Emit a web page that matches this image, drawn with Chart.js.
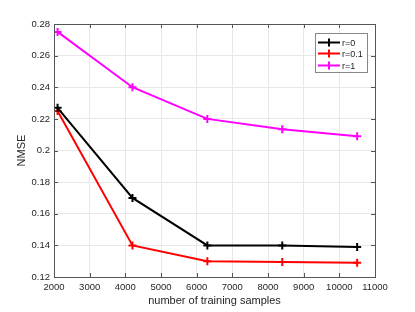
<!DOCTYPE html>
<html>
<head>
<meta charset="utf-8">
<script src="https://cdn.jsdelivr.net/npm/chart.js@4"></script>
<style>
  html, body { margin: 0; padding: 0; background: #fff; }
  #wrap { width: 415px; height: 312px; }
</style>
</head>
<body>
<div id="wrap"><canvas id="nmseChart" width="415" height="312"></canvas></div>
<script>
// data
const samples = [2100, 4200, 6300, 8400, 10500];
const r0 = [0.227, 0.170, 0.140, 0.140, 0.139];
const r01 = [0.225, 0.140, 0.130, 0.1295, 0.129];
const r1 = [0.275, 0.240, 0.220, 0.2135, 0.209];
const seriesNames = ['r=0', 'r=0.1', 'r=1'];
const seriesColors = ['#000000', '#ff0000', '#ff00ff'];

const toPoints = ys => ys.map((y, i) => ({ x: samples[i], y: y }));
const FONT = '"Liberation Sans", Arial, sans-serif';

// box around the axes + inward ticks, MATLAB style
const boxPlugin = {
  id: 'box',
  afterDraw(chart) {
    const { ctx, chartArea: a, scales } = chart;
    ctx.save();
    ctx.strokeStyle = '#555';
    ctx.lineWidth = 1;
    ctx.strokeRect(a.left + 0.5, a.top + 0.5, a.right - a.left, a.bottom - a.top);
    ctx.beginPath();
    scales.x.ticks.forEach(t => {
      const px = Math.round(scales.x.getPixelForValue(t.value)) + 0.5;
      ctx.moveTo(px, a.bottom); ctx.lineTo(px, a.bottom - 4);
      ctx.moveTo(px, a.top); ctx.lineTo(px, a.top + 4);
    });
    scales.y.ticks.forEach(t => {
      const py = Math.round(scales.y.getPixelForValue(t.value)) + 0.5;
      ctx.moveTo(a.left, py); ctx.lineTo(a.left + 4, py);
      ctx.moveTo(a.right, py); ctx.lineTo(a.right - 4, py);
    });
    ctx.stroke();
    ctx.restore();
  }
};

// legend box in the top right corner of the plot
const legendPlugin = {
  id: 'innerLegend',
  afterDraw(chart) {
    const { ctx, chartArea: a } = chart;
    const w = 52, h = 39;
    const x0 = a.right - 60, y0 = a.top + 9;
    ctx.save();
    ctx.fillStyle = '#fff';
    ctx.fillRect(x0, y0, w, h);
    ctx.strokeStyle = '#888';
    ctx.lineWidth = 1;
    ctx.strokeRect(x0 + 0.5, y0 + 0.5, w, h);
    ctx.font = '9px ' + FONT;
    ctx.textBaseline = 'middle';
    chart.data.datasets.forEach((ds, i) => {
      const cy = Math.round(y0 + 9 + i * 11.3) + 0.5;
      ctx.strokeStyle = ds.borderColor;
      ctx.lineWidth = 2;
      ctx.beginPath();
      ctx.moveTo(x0 + 3, cy); ctx.lineTo(x0 + 25, cy);
      ctx.moveTo(x0 + 14, cy - 4); ctx.lineTo(x0 + 14, cy + 4);
      ctx.stroke();
      ctx.fillStyle = '#222';
      ctx.fillText(ds.label, x0 + 27, cy + 1);
    });
    ctx.restore();
  }
};

const datasets = [r0, r01, r1].map((vals, i) => ({
  label: seriesNames[i],
  data: toPoints(vals),
  borderColor: seriesColors[i],
  backgroundColor: seriesColors[i],
  borderWidth: 2,
  pointStyle: 'cross',
  pointRadius: 4,
  pointBorderWidth: 2,
  tension: 0
}));

new Chart(document.getElementById('nmseChart'), {
  type: 'line',
  data: { datasets: datasets },
  options: {
    responsive: false,
    animation: false,
    layout: { padding: { top: 24, right: 40, left: 0, bottom: 0 } },
    plugins: {
      legend: { display: false },
      tooltip: { enabled: false }
    },
    scales: {
      x: {
        type: 'linear',
        min: 2000, max: 11000,
        ticks: {
          stepSize: 1000, autoSkip: false, maxRotation: 0,
          color: '#262626', font: { family: FONT, size: 9.5 }, padding: 5,
          callback: v => String(v)
        },
        grid: { color: '#e8e8e8', drawTicks: false },
        border: { display: false },
        title: {
          display: true, text: 'number of training samples',
          color: '#262626', font: { family: FONT, size: 11 }, padding: { top: 4 }
        },
        afterFit(s) { s.height = 35; }
      },
      y: {
        min: 0.12, max: 0.28,
        ticks: {
          stepSize: 0.02, color: '#262626', font: { family: FONT, size: 9.5 }, padding: 4,
          callback: v => String(+v.toFixed(2))
        },
        grid: { color: '#e8e8e8', drawTicks: false },
        border: { display: false },
        title: {
          display: true, text: 'NMSE',
          color: '#262626', font: { family: FONT, size: 11 }, padding: { top: 15 }
        },
        afterFit(s) { s.width = 54; }
      }
    }
  },
  plugins: [boxPlugin, legendPlugin]
});
</script>
</body>
</html>
